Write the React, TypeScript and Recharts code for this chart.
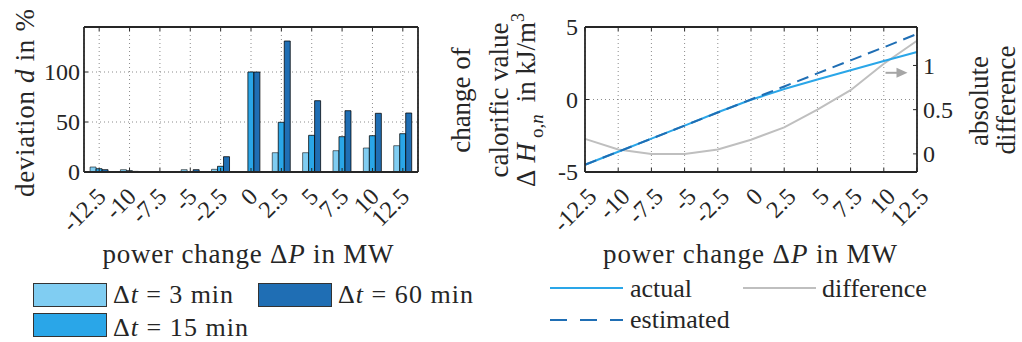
import * as React from 'react'
import {
  BarChart,
  Bar,
  LineChart,
  Line,
  XAxis,
  YAxis,
  CartesianGrid,
  Label,
  ReferenceDot,
} from 'recharts'

// power change steps in MW
const powerSteps = [-12.5, -10, -7.5, -5, -2.5, 0, 2.5, 5, 7.5, 10, 12.5]
const stepLabels = ['-12.5', '-10', '-7.5', '-5', '-2.5', '0', '2.5', '5', '7.5', '10', '12.5']

// deviation d in % per time step
const dev3min = [5, 2.3, 0, 2.3, 2.7, 0, 19.3, 19.3, 21.3, 24, 26.3]
const dev15min = [3.3, 1.3, 0, 0, 5.7, 100, 49.7, 36.7, 35.3, 36.3, 38.3]
const dev60min = [2.3, 0.6, 0, 2.3, 15.3, 100, 131, 71.3, 61.3, 58.7, 59]

// change of calorific value in kJ/m3 and absolute difference
const actualChange = [-4.5, -3.6, -2.7, -1.8, -0.88, -0.02, 0.72, 1.38, 2.02, 2.65, 3.28]
const estimatedChange = [-4.5, -3.6, -2.7, -1.8, -0.9, 0, 0.9, 1.8, 2.7, 3.6, 4.52]
const absDifference = [0.17, 0.05, 0, 0, 0.05, 0.16, 0.3, 0.5, 0.72, 1.02, 1.28]

const devTicks = [0, 50, 100]
const calTicks = [-5, 0, 5]
const diffTicks = [0, 0.5, 1]

const barData = stepLabels.map((label, i) => ({
  label,
  t3: dev3min[i],
  t15: dev15min[i],
  t60: dev60min[i],
}))

const lineData = powerSteps.map((p, i) => ({
  p,
  actual: actualChange[i],
  estimated: estimatedChange[i],
  diff: absDifference[i],
}))

const FONT = "'Liberation Serif', 'Nimbus Roman', 'Nimbus Roman No9 L', Tinos, 'Times New Roman', Times, serif"
const INK = '#262626'
const C3 = '#80cdf2'
const C15 = '#2aa6e8'
const C60 = '#1f6eb4'
const GREY = '#bfbfbf'
const frame = { stroke: INK, strokeWidth: 1.8 }

const BottomTick = ({ x, y, payload, shift }: any) => {
  const tx = x + shift
  const ty = y + 26
  return (
    <g>
      <line x1={x} x2={x} y1={y} y2={y - 4} stroke={INK} />
      <text
        x={tx}
        y={ty}
        transform={`rotate(-45 ${tx} ${ty})`}
        textAnchor="end"
        fontSize={24}
        style={{ fontFamily: FONT }}
        fill={INK}
      >
        {String(payload.value)}
      </text>
    </g>
  )
}

const TopTick = ({ x, y }: any) => <line x1={x} x2={x} y1={y} y2={y + 4} stroke={INK} />

const LeftTick = ({ x, y, payload, gap }: any) => (
  <g>
    <line x1={x} x2={x + 4} y1={y} y2={y} stroke={INK} />
    <text x={x - gap} y={y} dy="0.35em" textAnchor="end" fontSize={24} style={{ fontFamily: FONT }} fill={INK}>
      {payload.value}
    </text>
  </g>
)

const RightTick = ({ x, y, payload, label }: any) => (
  <g>
    <line x1={x - 4} x2={x} y1={y} y2={y} stroke={INK} />
    {label && (
      <text x={x + 6} y={y} dy="0.35em" textAnchor="start" fontSize={24} style={{ fontFamily: FONT }} fill={INK}>
        {payload.value}
      </text>
    )}
  </g>
)

const XTitle = ({ viewBox, dx, len }: any) => (
  <text
    x={viewBox.x + viewBox.width / 2 + dx}
    y={viewBox.y + 91}
    textAnchor="middle"
    fontSize={27}
    style={{ fontFamily: FONT }}
    fill={INK}
    textLength={len}
    lengthAdjust="spacing"
  >
    power change Δ<tspan fontStyle="italic">P</tspan> in MW
  </text>
)

const rotText = (x: number, y: number) => ({
  x,
  y,
  transform: `rotate(-90 ${x} ${y})`,
  textAnchor: 'middle' as const,
  fontSize: 27,
  style: { fontFamily: FONT },
  fill: INK,
})

const DevTitle = ({ viewBox }: any) => (
  <text {...rotText(viewBox.x, viewBox.y + 76)} textLength={188} lengthAdjust="spacing">
    deviation <tspan fontStyle="italic">d</tspan> in %
  </text>
)

const CalTitle = ({ viewBox }: any) => {
  const cy = viewBox.y + 73
  return (
    <g>
      <text {...rotText(viewBox.x - 55, cy)}>change of</text>
      <text {...rotText(viewBox.x - 17, cy)}>calorific value</text>
      <text {...rotText(viewBox.x + 10, cy)}>
        <tspan>Δ</tspan>
        <tspan fontStyle="italic" dx={7}>H</tspan>
        <tspan fontSize={19} dy={8} dx={5}>o,</tspan>
        <tspan fontSize={19} fontStyle="italic">n</tspan>
        <tspan dy={-8} dx={12}>in kJ/m</tspan>
        <tspan fontSize={18} dy={-11}>3</tspan>
      </text>
    </g>
  )
}

const DiffTitle = ({ viewBox }: any) => (
  <g>
    <text {...rotText(viewBox.x + 71, viewBox.y + 74)}>absolute</text>
    <text {...rotText(viewBox.x + 98, viewBox.y + 73)}>difference</text>
  </g>
)

const Arrow = ({ cx, cy }: any) => (
  <g>
    <line x1={cx} x2={cx + 13} y1={cy} y2={cy} stroke="#a6a6a6" strokeWidth={2} />
    <path d={`M${cx + 11},${cy - 5} L${cx + 22},${cy} L${cx + 11},${cy + 5} Z`} fill="#a6a6a6" />
  </g>
)

function DeviationChart() {
  return (
    <BarChart
      width={440}
      height={342}
      data={barData}
      margin={{ top: 26, right: 21, bottom: 0, left: 34 }}
      barCategoryGap="20%"
      barGap={0}
    >
      <CartesianGrid stroke="#8c8c8c" strokeDasharray="1 3" />
      <XAxis
        dataKey="label"
        height={170}
        tickSize={0}
        tickMargin={0}
        axisLine={frame}
        tickLine={false}
        interval={0}
        tick={(p: any) => <BottomTick {...p} shift={8} />}
      >
        <Label content={(p: any) => <XTitle {...p} dx={-3} len={291} />} />
      </XAxis>
      <XAxis
        xAxisId="top"
        dataKey="label"
        orientation="top"
        height={1}
        tickSize={0}
        tickMargin={0}
        axisLine={frame}
        tickLine={false}
        interval={0}
        tick={TopTick}
      />
      <YAxis
        domain={[0, 145]}
        ticks={devTicks}
        width={50}
        tickSize={0}
        tickMargin={0}
        axisLine={frame}
        tickLine={false}
        tick={(p: any) => <LeftTick {...p} gap={4} />}
      >
        <Label content={(p: any) => <DevTitle {...p} />} />
      </YAxis>
      <YAxis
        yAxisId="mirror"
        orientation="right"
        domain={[0, 145]}
        ticks={devTicks}
        width={1}
        tickSize={0}
        tickMargin={0}
        axisLine={frame}
        tickLine={false}
        tick={(p: any) => <RightTick {...p} label={false} />}
      />
      <Bar dataKey="t3" fill={C3} stroke="#000" strokeOpacity={0.55} isAnimationActive={false} />
      <Bar dataKey="t15" fill={C15} stroke="#000" strokeOpacity={0.75} isAnimationActive={false} />
      <Bar dataKey="t60" fill={C60} stroke="#000" strokeOpacity={0.75} isAnimationActive={false} />
    </BarChart>
  )
}

function CalorificChart() {
  return (
    <LineChart width={582} height={342} data={lineData} margin={{ top: 26, right: 45, bottom: 0, left: 85 }}>
      <CartesianGrid yAxisId="left" stroke="#8c8c8c" strokeDasharray="1 3" />
      <XAxis
        dataKey="p"
        type="number"
        domain={[-12.5, 12.5]}
        ticks={powerSteps}
        height={170}
        tickSize={0}
        tickMargin={0}
        axisLine={frame}
        tickLine={false}
        interval={0}
        tick={(p: any) => <BottomTick {...p} shift={13} />}
      >
        <Label content={(p: any) => <XTitle {...p} dx={-1} len={294} />} />
      </XAxis>
      <XAxis
        xAxisId="top"
        dataKey="p"
        type="number"
        domain={[-12.5, 12.5]}
        ticks={powerSteps}
        orientation="top"
        height={1}
        tickSize={0}
        tickMargin={0}
        axisLine={frame}
        tickLine={false}
        interval={0}
        tick={TopTick}
      />
      <YAxis
        yAxisId="left"
        domain={[-5, 5]}
        ticks={calTicks}
        width={60}
        tickSize={0}
        tickMargin={0}
        axisLine={frame}
        tickLine={false}
        tick={(p: any) => <LeftTick {...p} gap={7} />}
      >
        <Label content={(p: any) => <CalTitle {...p} />} />
      </YAxis>
      <YAxis
        yAxisId="right"
        orientation="right"
        domain={[-0.205, 1.435]}
        ticks={diffTicks}
        width={60}
        tickSize={0}
        tickMargin={0}
        axisLine={frame}
        tickLine={false}
        tick={(p: any) => <RightTick {...p} label />}
      >
        <Label content={(p: any) => <DiffTitle {...p} />} />
      </YAxis>
      <Line yAxisId="right" type="linear" dataKey="diff" stroke={GREY} strokeWidth={2} dot={false} isAnimationActive={false} />
      <Line yAxisId="left" type="linear" dataKey="actual" stroke={C15} strokeWidth={2} dot={false} isAnimationActive={false} />
      <Line
        yAxisId="left"
        type="linear"
        dataKey="estimated"
        stroke={C60}
        strokeWidth={2}
        strokeDasharray="12 7"
        dot={false}
        isAnimationActive={false}
      />
      <ReferenceDot yAxisId="right" x={10.13} y={0.917} r={0} ifOverflow="visible" shape={(p: any) => <Arrow {...p} />} />
    </LineChart>
  )
}

const txt = { fontSize: 26, style: { fontFamily: FONT }, fill: INK }

function Legends() {
  const box = (x: number, y: number, fill: string) => (
    <rect x={x} y={y} width={73} height={23} fill={fill} stroke="#333" strokeWidth={1} />
  )
  const dt = (x: number, y: number, rest: string, len: number) => (
    <text x={x} y={y} {...txt} textLength={len} lengthAdjust="spacing">
      Δ<tspan fontStyle="italic">t</tspan> = {rest}
    </text>
  )
  return (
    <svg width={1022} height={342} style={{ position: 'absolute', left: 0, top: 0, pointerEvents: 'none' }}>
      {box(33.5, 283.5, C3)}
      {dt(113, 303, '3 min', 120)}
      {box(258.5, 283.5, C60)}
      {dt(338, 303, '60 min', 135)}
      {box(33.5, 313.5, C15)}
      {dt(113, 336, '15 min', 135)}

      <line x1={550} x2={623} y1={288} y2={288} stroke={C15} strokeWidth={2} />
      <text x={630} y={297} {...txt}>actual</text>
      <line x1={743} x2={816} y1={288} y2={288} stroke={GREY} strokeWidth={2} />
      <text x={822} y={297} {...txt}>difference</text>
      <line x1={550} x2={623} y1={320} y2={320} stroke={C60} strokeWidth={2} strokeDasharray="17 13" />
      <text x={630} y={328} {...txt}>estimated</text>
    </svg>
  )
}

export default function App() {
  return (
    <div
      style={{
        position: 'absolute',
        left: 0,
        top: 0,
        width: 1022,
        height: 342,
        background: '#fff',
        fontFamily: FONT,
      }}
    >
      <div style={{ position: 'absolute', left: 0, top: 0 }}>
        <DeviationChart />
      </div>
      <div style={{ position: 'absolute', left: 440, top: 0 }}>
        <CalorificChart />
      </div>
      <Legends />
    </div>
  )
}
